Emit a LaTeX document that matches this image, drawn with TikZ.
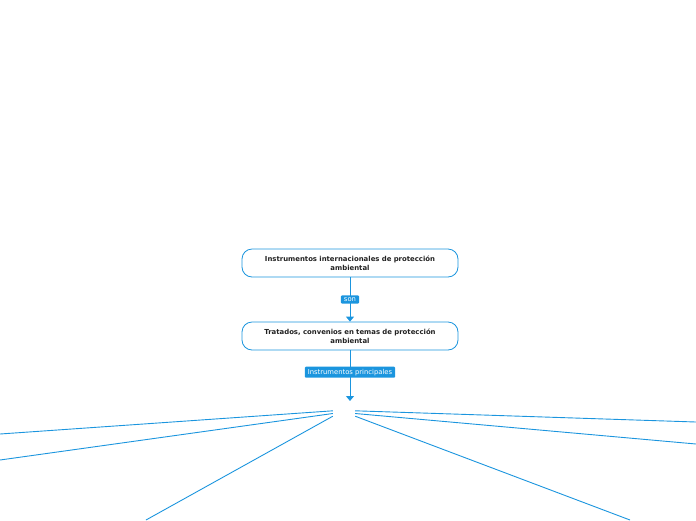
\documentclass[tikz,border=0pt]{standalone}
\usepackage{fontspec}
\setmainfont{DejaVu Sans}
\usetikzlibrary{arrows.meta}
\definecolor{mmblue}{HTML}{1B95DE}
\definecolor{mmtext}{HTML}{222222}
\tikzset{
  topic/.style={draw=mmblue, line width=0.8pt, rounded corners=10pt, fill=white,
    minimum width=216pt, minimum height=28pt, align=center, text width=200pt,
    text=mmtext, font=\bfseries\fontsize{6.9}{8.6}\selectfont, inner sep=0pt},
  tag/.style={fill=mmblue, text=white, rounded corners=1pt, inner xsep=3pt, inner ysep=2.2pt,
    font=\fontsize{6.8}{7.5}\selectfont},
  link/.style={draw=mmblue, line width=0.9pt},
  tip/.style={-{Triangle[width=8pt,length=5pt]}}
}
\begin{document}
\begin{tikzpicture}[x=1pt,y=-1pt]
      \useasboundingbox (0,0) rectangle (696,520);

      % Main topics
      \node[topic] (inst) at (350,263) {Instrumentos internacionales de protección\\ambiental};
      \node[topic] (trat) at (350,336) {Tratados, convenios en temas de protección\\ambiental};

      % Hub and loose ends
      \node[inner sep=0pt, minimum width=22pt, minimum height=5pt] (hub) at (344,413.5) {};
      \coordinate (l1) at (0,434);
      \coordinate (l2) at (0,460);
      \coordinate (l3) at (146,520);
      \coordinate (r1) at (696,422);
      \coordinate (r2) at (696,444);
      \coordinate (r3) at (630,520);

      % Connectors
      \draw[link,tip] (inst) -- (trat) node[tag,midway] {son};
      \draw[link,tip] (trat) -- (350,401) node[tag,pos=0.43] {Instrumentos principales};

      % Branches
      \draw[link] (hub.north west) -- (l1);
      \draw[link] (hub.west) -- (l2);
      \draw[link] (hub.south west) -- (l3);
      \draw[link] (hub.north east) -- (r1);
      \draw[link] (hub.east) -- (r2);
      \draw[link] (hub.south east) -- (r3);
    \end{tikzpicture}
\end{document}
